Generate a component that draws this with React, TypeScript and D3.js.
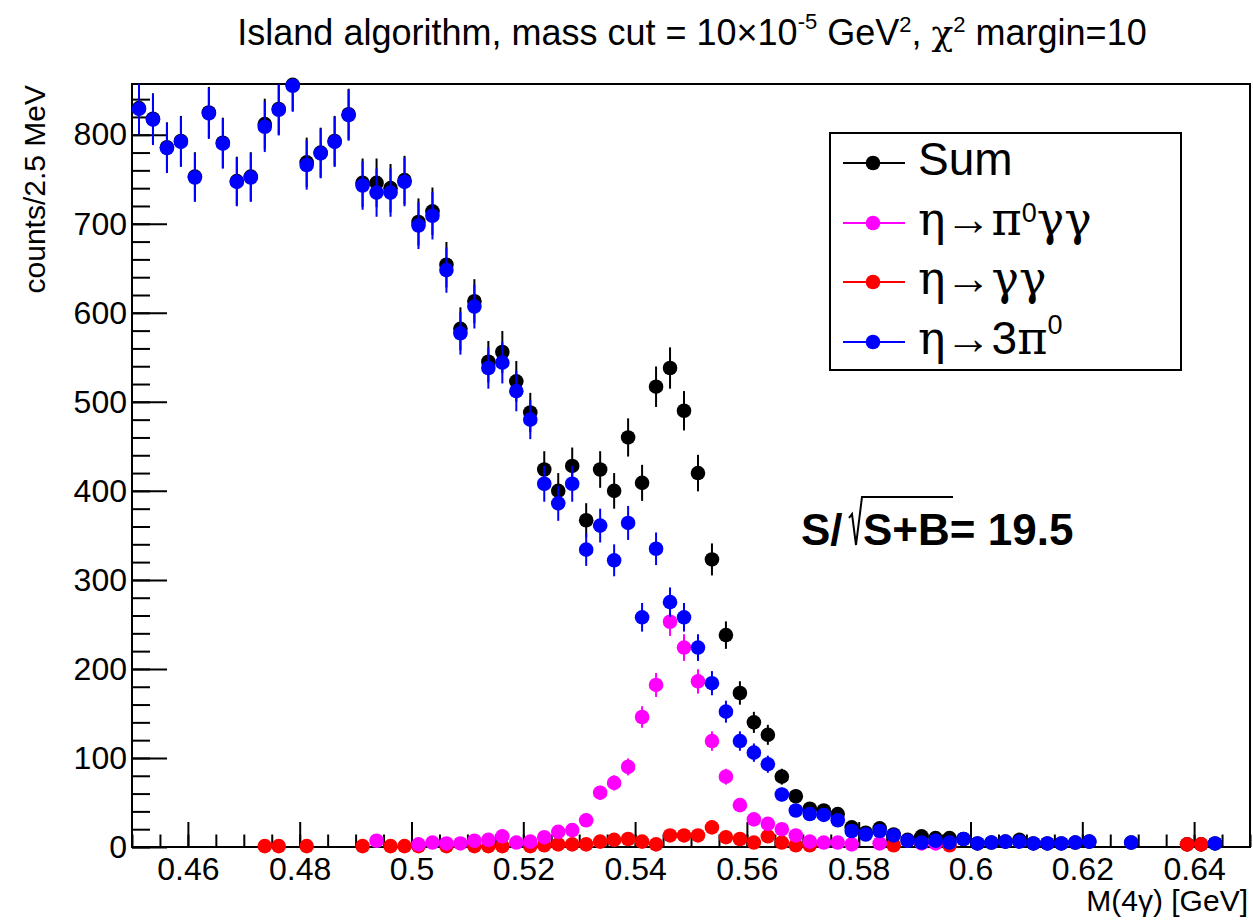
import { useEffect, useRef } from "react";
import * as d3 from "d3";

// histogram binning: 80 bins of 2.5 MeV between 0.45 and 0.65 GeV
const binLow = 0.45;
const binWidth = 0.0025;
const _ = null;

// counts per bin (null = empty bin, not drawn)
const sumCounts = [
  830, 818, 786, 793, 753, 825, 791, 748, 753, 812,
  829, 856, 769, 780, 793, 823, 746, 746, 740, 749,
  702, 714, 654, 582, 613, 545, 556, 523, 488, 424,
  400, 428, 367, 424, 400, 460, 409, 517, 538, 490,
  420, 323, 238, 173, 140, 126, 79, 57, 43, 41,
  37, 22, 16, 21, 14, 8, 12, 10, 10, 9,
  4, 5, 6, 8, 4, 4, 4, 5, 6, _,
  _, 5, _, _, _, 3, 3, 4, _, _,
];

const pi0ggCounts = [
  _, _, _, _, _, _, _, _, _, _,
  _, _, _, _, _, _, _, 7, _, _,
  3, 5, 4, 4, 7, 8, 12, 5, 6, 11,
  17, 19, 30, 61, 72, 90, 146, 182, 253, 224,
  186, 119, 79, 47, 31, 26, 20, 13, 6, 5,
  5, 3, _, 4, _, _, 4, 4, _, _,
  _, _, _, _, _, _, _, _, _, _,
  _, _, _, _, _, _, _, _, _, _,
];

const ggCounts = [
  _, _, _, _, _, _, _, _, _, 1,
  1, _, 1, _, _, _, 1, _, 1, 1,
  1, _, 1, _, 1, 1, 1, _, 1, 2,
  3, 3, 3, 6, 8, 9, 6, 3, 13, 13,
  13, 22, 11, 9, 5, 12, 5, 2, 2, _,
  _, _, _, _, 2, _, _, _, 2, _,
  _, _, _, _, _, _, _, _, _, _,
  _, _, _, _, _, 3, 3, _, _, _,
];

const threePi0Counts = [
  829, 817, 785, 792, 752, 824, 790, 747, 752, 809,
  828, 855, 766, 779, 792, 822, 743, 735, 735, 747,
  698, 709, 648, 577, 607, 538, 544, 512, 480, 408,
  386, 408, 334, 361, 322, 364, 258, 335, 275, 258,
  224, 184, 152, 119, 106, 93, 59, 41, 37, 36,
  30, 18, 14, 18, 13, 7, 5, 7, 5, 9,
  4, 5, 6, 6, 4, 4, 4, 5, 6, _,
  _, 5, _, _, _, _, _, 4, _, _,
];

const series = [
  { name: "Sum", color: "#000000", counts: sumCounts },
  { name: "gg", color: "#ff0000", counts: ggCounts },
  { name: "pi0gg", color: "#ff00ff", counts: pi0ggCounts },
  { name: "3pi0", color: "#0000ff", counts: threePi0Counts },
];

const SANS = "'Liberation Sans', Arial, Helvetica, sans-serif";
const GREEK = "'DejaVu Serif', 'Liberation Serif', serif";
const ARROW = "'Liberation Serif', 'DejaVu Serif', serif";

const App = () => {
  const svgRef = useRef<SVGSVGElement>(null);

  useEffect(() => {
    const width = 1253;
    const height = 920;
    const frame = { left: 132, right: 1250, top: 84, bottom: 847 };

    const svg = d3.select(svgRef.current);
    svg.selectAll("*").remove();
    svg.attr("width", width).attr("height", height);

    svg.append("rect").attr("width", width).attr("height", height).attr("fill", "#fff");

    const x = d3.scaleLinear().domain([0.45, 0.65]).range([frame.left, frame.right]);
    const y = d3.scaleLinear().domain([0, 857]).range([frame.bottom, frame.top]);

    // minor ticks
    svg.append("g")
      .attr("transform", `translate(0,${frame.bottom})`)
      .call(d3.axisBottom(x).tickValues(x.ticks(40)).tickSize(-12.5).tickFormat(() => ""))
      .call(g => g.select(".domain").remove())
      .selectAll("line").attr("stroke-width", 2);

    svg.append("g")
      .attr("transform", `translate(${frame.left},0)`)
      .call(d3.axisLeft(y).tickValues(y.ticks(40)).tickSize(-18).tickFormat(() => ""))
      .call(g => g.select(".domain").remove())
      .selectAll("line").attr("stroke-width", 2);

    // major ticks + labels
    const xAxis = svg.append("g")
      .attr("transform", `translate(0,${frame.bottom})`)
      .call(d3.axisBottom(x).ticks(10).tickSize(-25).tickPadding(10)
        .tickFormat(d => String(+(+d).toFixed(3))));
    xAxis.select(".domain").remove();
    xAxis.selectAll("line").attr("stroke-width", 2);
    xAxis.selectAll("text").attr("font-family", SANS).attr("font-size", 32).attr("fill", "#000");

    const yAxis = svg.append("g")
      .attr("transform", `translate(${frame.left},0)`)
      .call(d3.axisLeft(y).ticks(8).tickSize(-35).tickPadding(5));
    yAxis.select(".domain").remove();
    yAxis.selectAll("line").attr("stroke-width", 2);
    yAxis.selectAll("text").attr("font-family", SANS).attr("font-size", 32).attr("fill", "#000");

    // frame
    svg.append("rect")
      .attr("x", frame.left).attr("y", frame.top)
      .attr("width", frame.right - frame.left).attr("height", frame.bottom - frame.top)
      .attr("fill", "none").attr("stroke", "#000").attr("stroke-width", 2);

    // data points with sqrt(N) error bars
    const binCenter = (i: number) => binLow + (i + 0.5) * binWidth;
    const clampY = (v: number) => Math.max(frame.top, Math.min(frame.bottom, v));

    series.forEach(s => {
      const pts = s.counts
        .map((v, i) => ({ i, v }))
        .filter(d => d.v !== null) as { i: number; v: number }[];
      const g = svg.append("g").attr("class", `series-${s.name}`);
      g.selectAll("line")
        .data(pts)
        .enter().append("line")
        .attr("x1", d => x(binCenter(d.i)))
        .attr("x2", d => x(binCenter(d.i)))
        .attr("y1", d => clampY(y(d.v + Math.sqrt(d.v))))
        .attr("y2", d => clampY(y(Math.max(0, d.v - Math.sqrt(d.v)))))
        .attr("stroke", s.color)
        .attr("stroke-width", 2);
      g.selectAll("circle")
        .data(pts)
        .enter().append("circle")
        .attr("cx", d => x(binCenter(d.i)))
        .attr("cy", d => y(d.v))
        .attr("r", 7.3)
        .attr("fill", s.color);
    });

    // title
    const title = svg.append("text")
      .attr("x", 692).attr("y", 45)
      .attr("text-anchor", "middle")
      .attr("font-family", SANS).attr("font-size", 36).attr("fill", "#000");
    title.append("tspan").text("Island algorithm, mass cut = 10\u00d710");
    title.append("tspan").attr("font-size", 22).attr("dy", -16).text("-5");
    title.append("tspan").attr("dy", 16).text(" GeV");
    title.append("tspan").attr("font-size", 22).attr("dy", -13).text("2");
    title.append("tspan").attr("dy", 13).text(", ");
    title.append("tspan").attr("font-family", GREEK).text("\u03c7");
    title.append("tspan").attr("font-size", 22).attr("dy", -13).text("2");
    title.append("tspan").attr("dy", 13).text(" margin=10");

    // axis titles
    svg.append("text")
      .attr("x", 1248).attr("y", 911)
      .attr("text-anchor", "end")
      .attr("font-family", SANS).attr("font-size", 30)
      .text("M(4\u03b3) [GeV]");

    svg.append("text")
      .attr("transform", "translate(45,85) rotate(-90)")
      .attr("text-anchor", "end")
      .attr("font-family", SANS).attr("font-size", 30)
      .text("counts/2.5 MeV");

    // legend
    const legend = svg.append("g");
    legend.append("rect")
      .attr("x", 830).attr("y", 133).attr("width", 351).attr("height", 237)
      .attr("fill", "#fff").attr("stroke", "#000").attr("stroke-width", 2);

    const rows = [
      { color: "#000000", cy: 163 },
      { color: "#ff00ff", cy: 223 },
      { color: "#ff0000", cy: 282 },
      { color: "#0000ff", cy: 342 },
    ];
    rows.forEach(r => {
      legend.append("line")
        .attr("x1", 843).attr("x2", 905).attr("y1", r.cy).attr("y2", r.cy)
        .attr("stroke", r.color).attr("stroke-width", 2);
      legend.append("circle").attr("cx", 873).attr("cy", r.cy).attr("r", 7.3).attr("fill", r.color);
    });

    const lt = (cy: number) => legend.append("text")
      .attr("x", 918).attr("y", cy + 12)
      .attr("font-family", SANS).attr("font-size", 46).attr("fill", "#000");

    const eta = (t: d3.Selection<SVGTextElement, unknown, null, undefined>) => {
      t.append("tspan").attr("font-family", GREEK).text("\u03b7");
      t.append("tspan").attr("font-family", ARROW).text("\u2192");
    };

    lt(rows[0].cy).text("Sum");

    const t2 = lt(rows[1].cy);
    eta(t2);
    t2.append("tspan").attr("font-family", GREEK).text("\u03c0");
    t2.append("tspan").attr("font-size", 27).attr("dy", -13).text("0");
    t2.append("tspan").attr("dy", 13).attr("font-family", GREEK).text("\u03b3\u03b3");

    const t3 = lt(rows[2].cy);
    eta(t3);
    t3.append("tspan").attr("font-family", GREEK).text("\u03b3\u03b3");

    const t4 = lt(rows[3].cy);
    eta(t4);
    t4.append("tspan").text("3");
    t4.append("tspan").attr("font-family", GREEK).text("\u03c0");
    t4.append("tspan").attr("font-size", 27).attr("dy", -20).text("0");

    // significance label
    const sig = svg.append("g").attr("font-family", SANS).attr("font-size", 44).attr("font-weight", "bold");
    sig.append("text").attr("x", 801).attr("y", 545).text("S/");
    sig.append("path")
      .attr("d", "M849,518 L852,514 L856,545 L862,497 L953,497")
      .attr("fill", "none").attr("stroke", "#000").attr("stroke-width", 2);
    sig.append("text").attr("x", 863).attr("y", 545).text("S+B= 19.5");
  }, []);

  return (
    <svg ref={svgRef} style={{ position: "absolute", left: 0, top: 0 }}></svg>
  );
};

export default App;
